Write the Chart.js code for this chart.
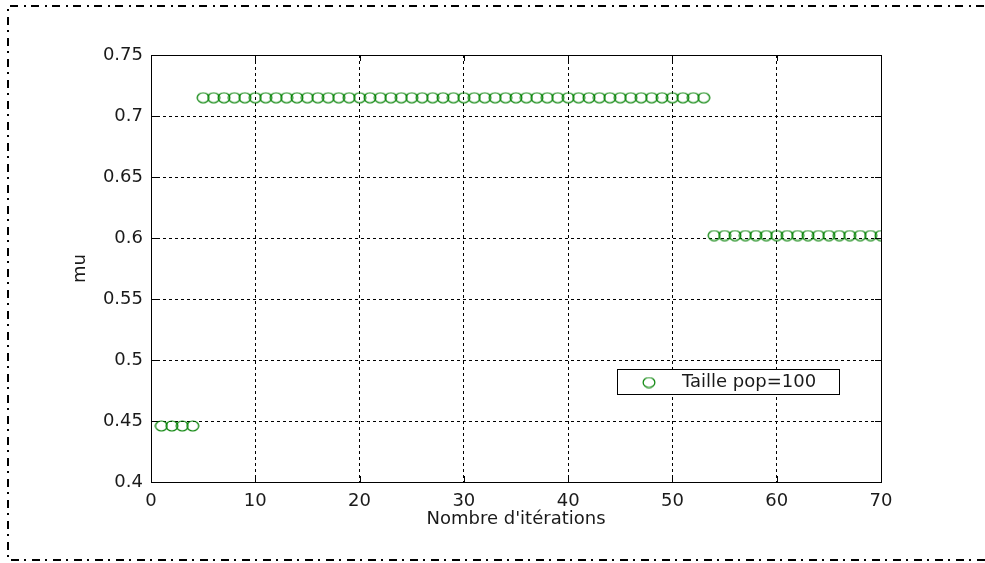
<!DOCTYPE html>
<html>
<head>
<meta charset="utf-8">
<script src="https://cdn.jsdelivr.net/npm/chart.js@4/dist/chart.umd.min.js"></script>
<style>
  html, body { margin: 0; padding: 0; background: #ffffff; }
  canvas { display: block; }
</style>
</head>
<body>
<canvas id="chart" width="985" height="563"></canvas>
<script>
// Iteration numbers (x) and the best mu found at each iteration (y)
const iterations = [
  1, 2, 3, 4, 5, 6, 7, 8, 9, 10,
  11, 12, 13, 14, 15, 16, 17, 18, 19, 20,
  21, 22, 23, 24, 25, 26, 27, 28, 29, 30,
  31, 32, 33, 34, 35, 36, 37, 38, 39, 40,
  41, 42, 43, 44, 45, 46, 47, 48, 49, 50,
  51, 52, 53, 54, 55, 56, 57, 58, 59, 60,
  61, 62, 63, 64, 65, 66, 67, 68, 69, 70
];
const muValues = [
  0.446, 0.446, 0.446, 0.446, 0.715, 0.715, 0.715, 0.715, 0.715, 0.715,
  0.715, 0.715, 0.715, 0.715, 0.715, 0.715, 0.715, 0.715, 0.715, 0.715,
  0.715, 0.715, 0.715, 0.715, 0.715, 0.715, 0.715, 0.715, 0.715, 0.715,
  0.715, 0.715, 0.715, 0.715, 0.715, 0.715, 0.715, 0.715, 0.715, 0.715,
  0.715, 0.715, 0.715, 0.715, 0.715, 0.715, 0.715, 0.715, 0.715, 0.715,
  0.715, 0.715, 0.715, 0.602, 0.602, 0.602, 0.602, 0.602, 0.602, 0.602,
  0.602, 0.602, 0.602, 0.602, 0.602, 0.602, 0.602, 0.602, 0.602, 0.602
];
const seriesLabel = 'Taille pop=100';
const xTitle = "Nombre d'itérations";
const yTitle = 'mu';
const xTicks = [0, 10, 20, 30, 40, 50, 60, 70];
const yTicks = [0.4, 0.45, 0.5, 0.55, 0.6, 0.65, 0.7, 0.75];

const FONT = 'DejaVu Sans';
const TEXT = '#1a1a1a';
const GREEN = '#008000';

const points = iterations.map((x, i) => ({ x: x, y: muValues[i] }));

// Open, slightly wide ring used as the point marker
const ring = document.createElement('canvas');
ring.width = 14;
ring.height = 12;
(function () {
  const c = ring.getContext('2d');
  c.strokeStyle = GREEN;
  c.lineWidth = 1.2;
  c.beginPath();
  c.ellipse(7, 6, 5.9, 5.0, 0, 0, Math.PI * 2);
  c.stroke();
})();

// Dash-dot frame around the figure (left, top and bottom sides)
const framePlugin = {
  id: 'frame',
  beforeDraw(chart) {
    const ctx = chart.ctx;
    ctx.save();
    ctx.fillStyle = '#ffffff';
    ctx.fillRect(0, 0, chart.width, chart.height);
    ctx.strokeStyle = '#000000';
    ctx.lineWidth = 2;
    ctx.setLineDash([8, 5, 2, 6]);
    ctx.beginPath();
    ctx.moveTo(chart.width + 20, 6);
    ctx.lineTo(8, 6);
    ctx.lineTo(8, 560);
    ctx.lineTo(chart.width + 20, 560);
    ctx.stroke();
    ctx.restore();
  }
};

// Solid axes box, inward tick marks and the boxed legend
const boxPlugin = {
  id: 'box',
  afterDatasetsDraw(chart) {
    const { ctx, chartArea: a, scales } = chart;
    ctx.save();
    ctx.strokeStyle = '#000000';
    ctx.lineWidth = 1;
    ctx.setLineDash([]);
    ctx.beginPath();
    xTicks.forEach(v => {
      const px = Math.round(scales.x.getPixelForValue(v)) + 0.5;
      ctx.moveTo(px, a.bottom); ctx.lineTo(px, a.bottom - 6);
      ctx.moveTo(px, a.top); ctx.lineTo(px, a.top + 6);
    });
    yTicks.forEach(v => {
      const py = Math.round(scales.y.getPixelForValue(v)) + 0.5;
      ctx.moveTo(a.left, py); ctx.lineTo(a.left + 6, py);
      ctx.moveTo(a.right, py); ctx.lineTo(a.right - 6, py);
    });
    ctx.stroke();
    ctx.strokeRect(Math.round(a.left) + 0.5, Math.round(a.top) + 0.5,
                   Math.round(a.right - a.left), Math.round(a.bottom - a.top));
    ctx.restore();
  },
  afterDraw(chart) {
    const ctx = chart.ctx;
    const ds = chart.data.datasets[0];
    const bx = 617, by = 369, bw = 222, bh = 25;
    ctx.save();
    ctx.fillStyle = '#ffffff';
    ctx.fillRect(bx, by, bw, bh);
    ctx.strokeStyle = '#000000';
    ctx.lineWidth = 1;
    ctx.strokeRect(bx + 0.5, by + 0.5, bw, bh);
    ctx.drawImage(ds.pointStyle, 649 - ring.width / 2, by + bh / 2 + 1 - ring.height / 2);
    ctx.fillStyle = TEXT;
    ctx.font = '18px "' + FONT + '"';
    ctx.textBaseline = 'middle';
    ctx.textAlign = 'left';
    ctx.fillText(ds.label, 682, by + bh / 2 + 1);
    ctx.restore();
  }
};

new Chart(document.getElementById('chart'), {
  type: 'scatter',
  data: {
    datasets: [{
      label: seriesLabel,
      data: points,
      showLine: false,
      pointStyle: ring,
      pointRadius: 6,
      pointHoverRadius: 6,
      borderColor: GREEN,
      backgroundColor: 'rgba(0,0,0,0)',
      borderWidth: 1.2
    }]
  },
  options: {
    responsive: false,
    animation: false,
    events: [],
    layout: { padding: { left: 0, right: 104, top: 55, bottom: 0 } },
    plugins: {
      legend: { display: false },
      tooltip: { enabled: false }
    },
    scales: {
      x: {
        type: 'linear',
        min: 0, max: 70,
        afterFit(scale) { scale.height = 81; },
        afterBuildTicks(scale) { scale.ticks = xTicks.map(v => ({ value: v })); },
        grid: { color: '#000000', lineWidth: 1, drawTicks: false },
        border: { display: false, dash: [3, 3] },
        ticks: {
          padding: 9,
          color: TEXT,
          font: { family: FONT, size: 18 },
          maxRotation: 0,
          callback: v => String(v)
        },
        title: {
          display: true,
          text: xTitle,
          color: TEXT,
          font: { family: FONT, size: 18 },
          padding: { top: 0, bottom: 33 }
        }
      },
      y: {
        type: 'linear',
        min: 0.4, max: 0.75,
        afterFit(scale) { scale.width = 151; },
        afterBuildTicks(scale) { scale.ticks = yTicks.map(v => ({ value: v })); },
        grid: { color: '#000000', lineWidth: 1, drawTicks: false },
        border: { display: false, dash: [3, 3] },
        ticks: {
          padding: 8,
          color: TEXT,
          font: { family: FONT, size: 18 },
          callback: v => String(Math.round(v * 100) / 100)
        },
        title: {
          display: true,
          text: yTitle,
          color: TEXT,
          font: { family: FONT, size: 18 },
          padding: { top: 70, bottom: 0 }
        }
      }
    }
  },
  plugins: [framePlugin, boxPlugin]
});
</script>
</body>
</html>
